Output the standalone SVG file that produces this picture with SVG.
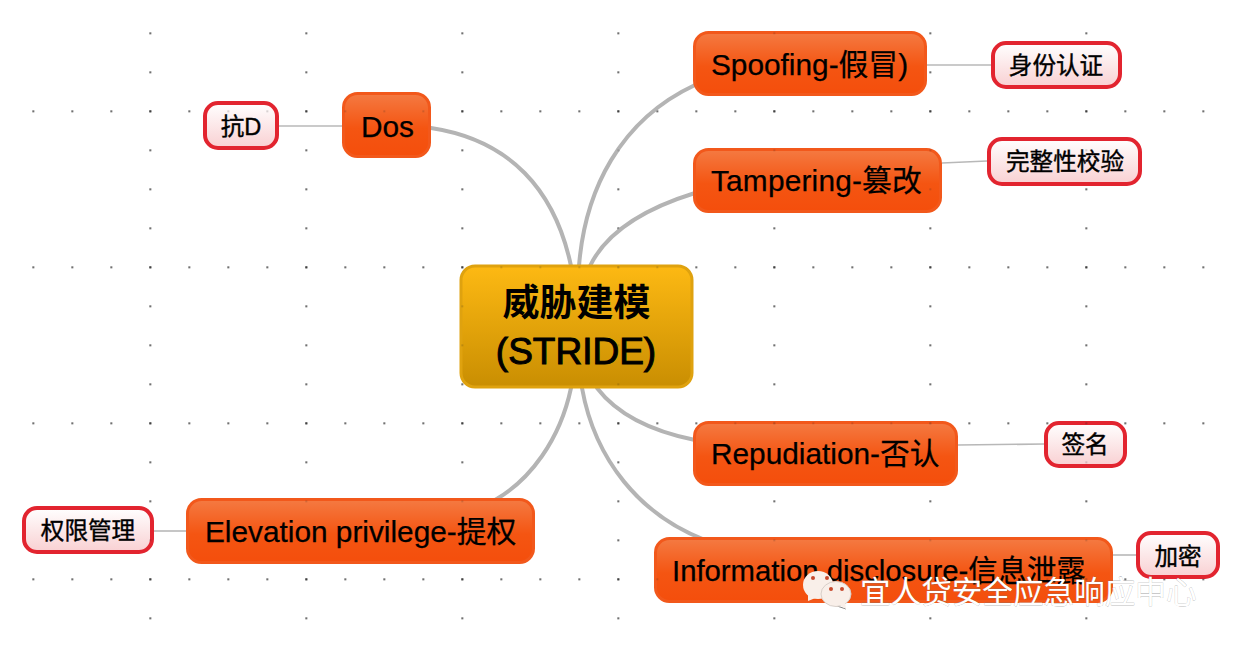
<svg xmlns="http://www.w3.org/2000/svg" width="1240" height="646" viewBox="0 0 1240 646">
<style>
text{font-family:"Liberation Sans","Noto Sans CJK SC",sans-serif;fill:#000}
.m{font-size:29.800px;stroke:#000;stroke-width:.25px}
.l{font-size:23.600px;text-anchor:middle;stroke:#000;stroke-width:.4px}
.br{fill:url(#gm);stroke:#f2581b;stroke-width:3}
.lf{fill:url(#gl);stroke:#e2242f;stroke-width:4}
.c1{fill:none;stroke:#b4b4b4;stroke-width:4;stroke-linecap:round}
.c2{fill:none;stroke:#b8b8b8;stroke-width:1.6}
.wm{font-size:30.600px;fill:#fff;stroke:#777;stroke-width:.3px;paint-order:stroke}
.bub{fill:#f9efe9}
.eye{fill:#c8482c}
</style>
<defs>
<linearGradient id="gc" x1="0" y1="0" x2="0" y2="1"><stop offset="0" stop-color="#fdb913"/><stop offset="1" stop-color="#c98e02"/></linearGradient>
<linearGradient id="gm" x1="0" y1="0" x2="0" y2="1"><stop offset="0" stop-color="#f47a42"/><stop offset=".55" stop-color="#f45512"/><stop offset="1" stop-color="#f44e0c"/></linearGradient>
<linearGradient id="gl" x1="0" y1="0" x2="0" y2="1"><stop offset="0" stop-color="#ffffff"/><stop offset="1" stop-color="#f9d0d2"/></linearGradient>
<pattern id="pv" patternUnits="userSpaceOnUse" x="149.500" y="32.500" width="156" height="39"><rect width="1.500" height="1.500" fill="#222"/></pattern>
<pattern id="ph" patternUnits="userSpaceOnUse" x="32.500" y="110.500" width="39" height="156"><rect width="1.500" height="1.500" fill="#222"/></pattern>
</defs>
<rect width="1240" height="646" fill="#fff"/>
<g id="grid"><rect x="145" y="28" width="945" height="595" fill="url(#pv)"/><rect x="28" y="105" width="1180" height="478" fill="url(#ph)"/></g>
<g id="connectors">
<path class="c1" d="M579 266C585 190 620 120 695 85"/>
<path class="c1" d="M590 266C605 235 640 210 695 193"/>
<path class="c1" d="M431 128C510 140 555 190 571 266"/>
<path class="c1" d="M597 388C617 414 650 431 695 440"/>
<path class="c1" d="M582 388C595 460 640 515 705 540"/>
<path class="c1" d="M571 388C560 440 530 480 495 500"/>
<path class="c2" d="M927 65H991"/>
<path class="c2" d="M942 163L987 161"/>
<path class="c2" d="M958 445L1044 444"/>
<path class="c2" d="M1113 555H1136"/>
<path class="c2" d="M279 126H342"/>
<path class="c2" d="M154 531H186"/>
</g>
<g id="center"><rect x="461" y="266" width="231" height="121" rx="14" fill="url(#gc)" stroke="#dfa20f" stroke-width="3"/>
<text x="576.500" y="316" font-size="37" font-weight="700" text-anchor="middle">威胁建模</text>
<text x="576" y="364" font-size="37" text-anchor="middle" style="stroke:#000;stroke-width:1px">(STRIDE)</text></g>
<g id="spoofing"><rect class="br" x="694.500" y="32.500" width="231" height="62" rx="14"/><text class="m" x="711" y="75">Spoofing-假冒)</text></g>
<g id="tampering"><rect class="br" x="694.500" y="149.500" width="246" height="62" rx="14"/><text class="m" x="711" y="191" style="letter-spacing:.2px">Tampering-篡改</text></g>
<g id="repudiation"><rect class="br" x="694.500" y="422.500" width="262" height="62" rx="14"/><text class="m" x="711" y="464">Repudiation-否认</text></g>
<g id="information"><rect class="br" x="655.500" y="538.500" width="456" height="63" rx="14"/><text class="m" x="672" y="581" style="font-size:29.300px">Information disclosure-信息泄露</text></g>
<g id="elevation"><rect class="br" x="187.500" y="499.500" width="346" height="63" rx="14"/><text class="m" x="205" y="542">Elevation privilege-提权</text></g>
<g id="dos"><rect class="br" x="343.500" y="93.500" width="86" height="63" rx="14"/><text class="m" x="361" y="137">Dos</text></g>
<g id="leaf-auth"><rect class="lf" x="993" y="43" width="127" height="44" rx="13"/><text class="l" x="1056" y="74">身份认证</text></g>
<g id="leaf-integrity"><rect class="lf" x="989" y="139" width="151" height="45" rx="13"/><text class="l" x="1065" y="170">完整性校验</text></g>
<g id="leaf-sign"><rect class="lf" x="1046" y="423" width="79" height="43" rx="13"/><text class="l" x="1085" y="453">签名</text></g>
<g id="leaf-encrypt"><rect class="lf" x="1138" y="533" width="80" height="44" rx="13"/><text class="l" x="1178" y="565">加密</text></g>
<g id="leaf-antid"><rect class="lf" x="205" y="103" width="72" height="45" rx="13"/><text class="l" x="241" y="135">抗D</text></g>
<g id="leaf-priv"><rect class="lf" x="24" y="508" width="128" height="44" rx="13"/><text class="l" x="88" y="539">权限管理</text></g>
<g id="grid-overlay" opacity=".3"><rect x="145" y="28" width="945" height="595" fill="url(#pv)"/><rect x="28" y="105" width="1180" height="478" fill="url(#ph)"/></g>
<g id="watermark">
<ellipse class="bub" cx="818" cy="585" rx="15" ry="14"/><path class="bub" d="M808 594L808 601L818 597Z"/>
<circle class="eye" cx="813" cy="578" r="2"/><circle class="eye" cx="827" cy="578" r="2"/>
<path d="M828 603L846 609" fill="none" stroke="#888" stroke-width="1"/>
<ellipse class="bub" cx="836" cy="594" rx="15" ry="12.500" stroke="#d8cfc9" stroke-width="1"/><path class="bub" d="M838 604L846 609L845 602Z"/>
<circle class="eye" cx="831" cy="589" r="2"/><circle class="eye" cx="842" cy="589" r="2"/>
<text class="wm" x="860" y="603">宜人贷安全应急响应中心</text></g>
</svg>
